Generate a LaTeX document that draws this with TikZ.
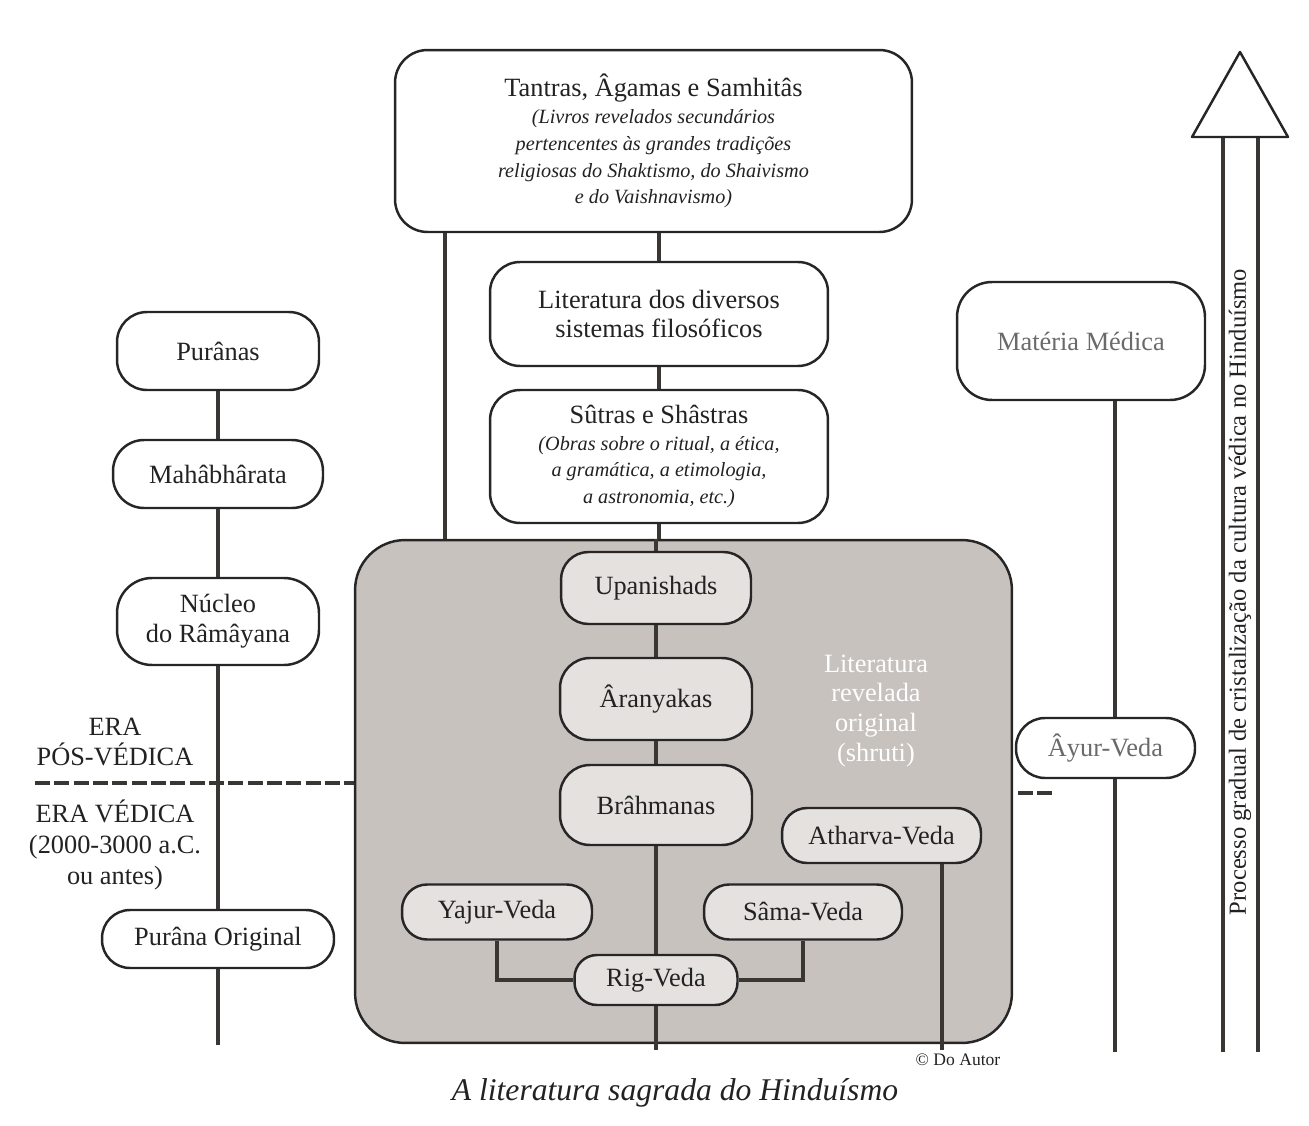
\documentclass[tikz,border=0pt]{standalone}
\usepackage{fontspec}
\setmainfont{Liberation Serif}
\pgfdeclarelayer{back}\pgfdeclarelayer{lines}\pgfsetlayers{back,lines,main}
\definecolor{greybox}{HTML}{C7C2BD}
\definecolor{innerbox}{HTML}{E4E1DE}
\definecolor{ink}{HTML}{222222}
\definecolor{faded}{HTML}{6A6A6A}
\definecolor{linec}{HTML}{3A3634}
\newcommand{\mainfs}{\fontsize{15}{17}\selectfont}
\tikzset{
  box/.style={draw=black!85, line width=1.4pt, fill=white, align=center, inner sep=0pt, text=ink, font=\mainfs},
  inner/.style={box, fill=innerbox},
  conn/.style={draw=linec, line width=1.8pt},
  eradash/.style={draw=linec, line width=2.6pt, dash pattern=on 8.5pt off 2.5pt},
}
\begin{document}
\begin{tikzpicture}[x=0.02cm,y=-0.02cm]
\useasboundingbox (0,0) rectangle (1309,1126);

% grey box
\begin{pgfonlayer}{back}
\node[draw=black!85, line width=1.4pt, fill=greybox, rounded corners=1cm, minimum width=13.14cm, minimum height=10.06cm] (grey) at (683.5,791.5) {};
\end{pgfonlayer}

% top column
\node[box, rounded corners=0.65cm, minimum width=10.34cm, minimum height=3.64cm, font=\fontsize{11.5}{15.3}\selectfont\itshape] (tantras) at (653.5,141)
  {{\fontsize{15}{15.3}\selectfont\upshape Tantras, Âgamas e Samhitâs}\\(Livros revelados secundários\\pertencentes às grandes tradições\\religiosas do Shaktismo, do Shaivismo\\e do Vaishnavismo)};
\node[box, rounded corners=0.6cm, minimum width=6.76cm, minimum height=2.08cm] (lit) at (659,314)
  {Literatura dos diversos\\sistemas filosóficos};
\node[box, rounded corners=0.6cm, minimum width=6.76cm, minimum height=2.66cm, font=\fontsize{11.5}{15}\selectfont\itshape] (sutras) at (659,456.5)
  {{\fontsize{15}{15}\selectfont\upshape Sûtras e Shâstras}\\(Obras sobre o ritual, a ética,\\a gramática, a etimologia,\\a astronomia, etc.)};

% inside grey box
\node[inner, rounded corners=0.55cm, minimum width=3.8cm, minimum height=1.44cm] (upan) at (656,588) {Upanishads};
\node[inner, rounded corners=0.6cm, minimum width=3.84cm, minimum height=1.64cm] (aran) at (656,699) {Âranyakas};
\node[inner, rounded corners=0.6cm, minimum width=3.84cm, minimum height=1.6cm] (brah) at (656,805) {Brâhmanas};
\node[inner, rounded corners=0.5cm, minimum width=3.98cm, minimum height=1.1cm] (ath) at (881.5,835.5) {Atharva-Veda};
\node[inner, rounded corners=0.5cm, minimum width=3.8cm, minimum height=1.1cm] (yaj) at (497,912) {Yajur-Veda};
\node[inner, rounded corners=0.5cm, minimum width=3.96cm, minimum height=1.1cm] (sama) at (803,912) {Sâma-Veda};
\node[inner, rounded corners=0.45cm, minimum width=3.26cm, minimum height=1.0cm] (rig) at (656,980) {Rig-Veda};
\node[align=center, text=white, font=\mainfs] (shruti) at (876,711) {Literatura\\revelada\\original\\(shruti)};

% left column
\node[box, rounded corners=0.6cm, minimum width=4.04cm, minimum height=1.56cm] (pur) at (218,351) {Purânas};
\node[box, rounded corners=0.62cm, minimum width=4.2cm, minimum height=1.36cm] (maha) at (218,474) {Mahâbhârata};
\node[box, rounded corners=0.7cm, minimum width=4.04cm, minimum height=1.74cm] (nuc) at (218,621.5) {Núcleo\\do Râmâyana};
\node[box, rounded corners=0.56cm, minimum width=4.64cm, minimum height=1.16cm] (porig) at (218,939) {Purâna Original};
\node[align=center, text=ink, font=\mainfs] (posv) at (115,742) {ERA\\PÓS-VÉDICA};
\node[align=center, text=ink, font=\fontsize{15}{17.5}\selectfont] (ved) at (115,845) {ERA VÉDICA\\(2000-3000 a.C.\\ou antes)};

% right side
\node[box, rounded corners=0.7cm, minimum width=4.96cm, minimum height=2.36cm, text=faded] (mat) at (1081,341) {Matéria Médica};
\node[box, rounded corners=0.58cm, minimum width=3.58cm, minimum height=1.2cm, text=faded] (ayur) at (1105.5,748) {Âyur-Veda};

% arrow
\coordinate (arrL) at (1223,1052);
\coordinate (arrR) at (1258,1052);
\coordinate (apex) at (1240,52);
\draw[line width=1.4pt, draw=black!85, fill=white, line join=round] (apex) -- (1288,137) -- (1192,137) -- cycle;
\node[rotate=90, text=ink, font=\fontsize{14}{14}\selectfont] (proc) at (1240,592) {Processo gradual de cristalização da cultura védica no Hinduísmo};

% captions
\node[text=ink, font=\fontsize{10}{12}\selectfont] (copy) at (958,1060) {© Do Autor};
\node[text=ink, font=\fontsize{18}{20}\selectfont\itshape] (cap) at (675,1093) {A literatura sagrada do Hinduísmo};

% free ends
\coordinate (tL) at (445,300);
\coordinate (cBot) at (656,1050);
\coordinate (athBot) at (942,1050);
\coordinate (athX) at (942,900);
\coordinate (leftBot) at (218,1045);
\coordinate (matX) at (1115,600);
\coordinate (matBot) at (1115,1052);
\coordinate (dashL) at (35,783);
\coordinate (dashR1) at (1018,793);
\coordinate (dashR2) at (1055,793);

\begin{pgfonlayer}{lines}
\draw[conn] (tantras.south -| tL) -- (grey.north -| tL);
\draw[conn] (tantras.south -| lit.north) -- (lit.north);
\draw[conn] (lit.south) -- (sutras.north);
\draw[conn] (sutras.south) -- (grey.north -| sutras.south);
\draw[conn] (grey.north -| upan.north) -- (upan.north);
\draw[conn] (upan.south) -- (aran.north);
\draw[conn] (aran.south) -- (brah.north);
\draw[conn] (brah.south) -- (rig.north);
\draw[conn] (rig.south) -- (cBot);
\draw[conn] (yaj.south) -- (yaj.south |- rig.west) -- (rig.west);
\draw[conn] (sama.south) -- (sama.south |- rig.east) -- (rig.east);
\draw[conn] (ath.south -| athX) -- (athBot);
\draw[conn] (pur.south) -- (maha.north);
\draw[conn] (maha.south) -- (nuc.north);
\draw[conn] (nuc.south) -- (porig.north);
\draw[conn] (porig.south) -- (leftBot);
\draw[conn] (mat.south -| matX) -- (matBot);
\draw[conn] (arrL |- 0,137) -- (arrL);
\draw[conn] (arrR |- 0,137) -- (arrR);
\draw[eradash] (dashL) -- (dashL -| grey.west);
\draw[eradash] (dashR1) -- (dashR2);
\end{pgfonlayer}
\end{tikzpicture}
\end{document}
